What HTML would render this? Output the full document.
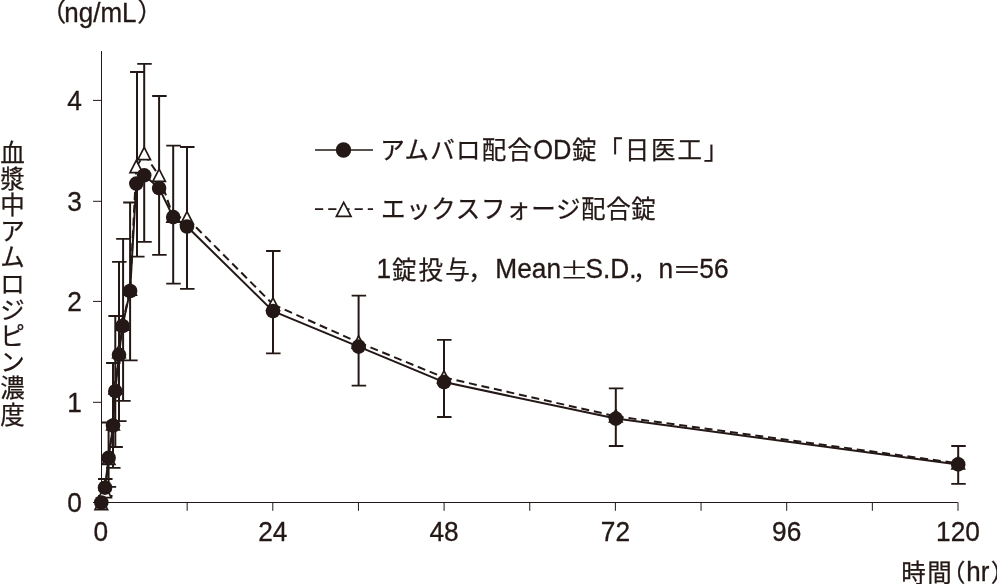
<!DOCTYPE html>
<html lang="ja"><head><meta charset="utf-8"><title>血漿中アムロジピン濃度</title>
<style>html,body{margin:0;padding:0;background:#fff;}body{width:997px;height:584px;overflow:hidden;}svg{display:block;}text{fill:#231815;font-family:"Liberation Sans","Noto Sans CJK JP",sans-serif;}.la{stroke:#231815;stroke-width:0.3px;}.jp{font-family:"Liberation Sans","Noto Sans CJK JP",sans-serif;stroke:#231815;stroke-width:0.25px;}.sym{font-family:"Noto Sans CJK JP","Liberation Sans",sans-serif;}</style></head><body>
<svg width="997" height="584" viewBox="0 0 997 584">
<rect width="997" height="584" fill="#fff"/>
<g stroke="#231815" stroke-width="1" fill="none">
<path d="M101.50 51V502.50H957.9"/>
<path d="M93 100.40H101.50"/>
<path d="M93 201.30H101.50"/>
<path d="M93 301.40H101.50"/>
<path d="M93 402.30H101.50"/>
<path d="M93 502.50H101.50"/>
<path d="M187.15 502.50V510.8"/>
<path d="M272.80 502.50V510.8"/>
<path d="M358.45 502.50V510.8"/>
<path d="M444.10 502.50V510.8"/>
<path d="M529.75 502.50V510.8"/>
<path d="M615.40 502.50V510.8"/>
<path d="M701.05 502.50V510.8"/>
<path d="M786.70 502.50V510.8"/>
<path d="M872.35 502.50V510.8"/>
<path d="M958.00 502.50V510.8"/>
</g>
<g stroke="#231815" stroke-width="2.00" fill="none">
<path d="M105.00 479.00V491.90M105.00 487.70V496.00"/>
<path d="M108.60 422.50V458.80M108.60 457.80V486.80"/>
<path d="M113.00 363.00V424.30M113.00 425.50V467.80"/>
<path d="M115.30 316.00V388.20M115.30 391.20V447.00"/>
<path d="M119.00 261.90V352.00M119.00 354.80V421.10"/>
<path d="M123.10 238.90V324.50M123.10 326.00V400.80"/>
<path d="M130.10 202.50V289.50M130.10 291.00V360.30"/>
<path d="M137.00 72.00V167.00M137.00 183.60V256.70"/>
<path d="M144.20 63.80V153.90M144.20 175.30V241.90"/>
<path d="M159.10 96.00V175.70M159.10 188.10V254.90"/>
<path d="M173.20 145.60V216.50M173.20 217.10V283.60"/>
<path d="M187.00 147.00V218.20M187.00 226.50V288.90"/>
<path d="M273.00 251.00V304.40M273.00 311.10V353.30"/>
<path d="M358.60 295.60V342.50M358.60 346.60V385.70"/>
<path d="M444.00 339.80V377.50M444.00 382.10V417.00"/>
<path d="M615.80 388.30V416.30M615.80 418.60V446.00"/>
<path d="M958.20 446.00V463.30M958.20 464.40V483.90"/>
</g>
<g stroke="#231815" stroke-width="1.8" fill="none">
<path d="M98.05 479.00H112.55M98.05 496.00H112.55"/>
<path d="M101.65 422.50H116.15M101.65 486.80H116.15"/>
<path d="M106.05 363.00H120.55M106.05 467.80H120.55"/>
<path d="M108.35 316.00H122.85M108.35 447.00H122.85"/>
<path d="M112.05 261.90H126.55M112.05 421.10H126.55"/>
<path d="M116.15 238.90H130.65M116.15 400.80H130.65"/>
<path d="M123.15 202.50H137.65M123.15 360.30H137.65"/>
<path d="M130.05 72.00H144.55M130.05 256.70H144.55"/>
<path d="M137.25 63.80H151.75M137.25 241.90H151.75"/>
<path d="M152.15 96.00H166.65M152.15 254.90H166.65"/>
<path d="M166.25 145.60H180.75M166.25 283.60H180.75"/>
<path d="M180.05 147.00H194.55M180.05 288.90H194.55"/>
<path d="M266.05 251.00H280.55M266.05 353.30H280.55"/>
<path d="M351.65 295.60H366.15M351.65 385.70H366.15"/>
<path d="M437.05 339.80H451.55M437.05 417.00H451.55"/>
<path d="M608.85 388.30H623.35M608.85 446.00H623.35"/>
<path d="M951.25 446.00H965.75M951.25 483.90H965.75"/>
</g>
<path d="M101.30 504.00L105.00 491.90M105.00 491.90L108.60 458.80M108.60 458.80L113.00 424.30M113.00 424.30L115.30 388.20M115.30 388.20L119.00 352.00M119.00 352.00L122.50 324.50M122.50 324.50L130.10 289.50M130.10 289.50L136.30 167.00M136.30 167.00L144.20 153.90M144.20 153.90L159.10 175.70M159.10 175.70L173.20 216.50M173.20 216.50L187.00 218.20M187.00 218.20L273.00 304.40M273.00 304.40L358.60 342.50M358.60 342.50L444.00 377.50M444.00 377.50L615.80 416.30M615.80 416.30L958.20 463.30" fill="none" stroke="#231815" stroke-width="2.00" stroke-dasharray="8 4.8"/>
<polyline points="101.30,502.50 105.00,487.70 108.60,457.80 113.00,425.50 115.30,391.20 119.00,354.80 122.50,326.00 130.10,291.00 136.30,183.60 144.20,175.30 159.10,188.10 173.20,217.10 187.00,226.50 273.00,311.10 358.60,346.60 444.00,382.10 615.80,418.60 958.20,464.40" fill="none" stroke="#231815" stroke-width="2.00" stroke-linejoin="round"/>
<g fill="#fff" stroke="#231815" stroke-width="1.7" stroke-linejoin="miter">
<path d="M101.30 497.45L107.60 509.65H95.00Z"/>
<path d="M105.00 485.35L111.30 497.55H98.70Z"/>
<path d="M108.60 452.25L114.90 464.45H102.30Z"/>
<path d="M113.00 417.75L119.30 429.95H106.70Z"/>
<path d="M115.30 381.65L121.60 393.85H109.00Z"/>
<path d="M119.00 345.45L125.30 357.65H112.70Z"/>
<path d="M122.50 317.95L128.80 330.15H116.20Z"/>
<path d="M130.10 282.95L136.40 295.15H123.80Z"/>
<path d="M136.30 160.45L142.60 172.65H130.00Z"/>
<path d="M144.20 147.35L150.50 159.55H137.90Z"/>
<path d="M159.10 169.15L165.40 181.35H152.80Z"/>
<path d="M173.20 209.95L179.50 222.15H166.90Z"/>
<path d="M187.00 211.65L193.30 223.85H180.70Z"/>
<path d="M273.00 297.85L279.30 310.05H266.70Z"/>
<path d="M358.60 335.95L364.90 348.15H352.30Z"/>
<path d="M444.00 370.95L450.30 383.15H437.70Z"/>
<path d="M615.80 409.75L622.10 421.95H609.50Z"/>
<path d="M958.20 456.75L964.50 468.95H951.90Z"/>
</g>
<g fill="#231815">
<circle cx="101.30" cy="502.50" r="7.30"/>
<circle cx="105.00" cy="487.70" r="7.30"/>
<circle cx="108.60" cy="457.80" r="7.30"/>
<circle cx="113.00" cy="425.50" r="7.30"/>
<circle cx="115.30" cy="391.20" r="7.30"/>
<circle cx="119.00" cy="354.80" r="7.30"/>
<circle cx="122.50" cy="326.00" r="7.30"/>
<circle cx="130.10" cy="291.00" r="7.30"/>
<circle cx="136.30" cy="183.60" r="7.30"/>
<circle cx="144.20" cy="175.30" r="7.30"/>
<circle cx="159.10" cy="188.10" r="7.30"/>
<circle cx="173.20" cy="217.10" r="7.30"/>
<circle cx="187.00" cy="226.50" r="7.30"/>
<circle cx="273.00" cy="311.10" r="7.30"/>
<circle cx="358.60" cy="346.60" r="7.30"/>
<circle cx="444.00" cy="382.10" r="7.30"/>
<circle cx="615.80" cy="418.60" r="7.30"/>
<circle cx="958.20" cy="464.40" r="7.30"/>
</g>
<path d="M315 150H373" stroke="#231815" stroke-width="1.7" fill="none"/>
<circle cx="343.5" cy="150" r="7.7" fill="#231815"/>
<path d="M315 209.1H373" stroke="#231815" stroke-width="1.7" fill="none" stroke-dasharray="8.2 5"/>
<path d="M343.7 202.4L351 216.3H336.4Z" fill="#fff" stroke="#231815" stroke-width="1.7"/>
<g>
<text transform="translate(82.0 109.8) scale(1 1.065)" font-size="26.3" text-anchor="end" class="la">4</text>
<text transform="translate(82.0 210.7) scale(1 1.065)" font-size="26.3" text-anchor="end" class="la">3</text>
<text transform="translate(82.0 310.8) scale(1 1.065)" font-size="26.3" text-anchor="end" class="la">2</text>
<text transform="translate(82.0 411.7) scale(1 1.065)" font-size="26.3" text-anchor="end" class="la">1</text>
<text transform="translate(82.0 511.9) scale(1 1.065)" font-size="26.3" text-anchor="end" class="la">0</text>
<text transform="translate(100.7 541.3) scale(1 1.065)" font-size="26.3" text-anchor="middle" class="la">0</text>
<text transform="translate(272.8 541.3) scale(1 1.065)" font-size="26.3" text-anchor="middle" class="la">24</text>
<text transform="translate(444.1 541.3) scale(1 1.065)" font-size="26.3" text-anchor="middle" class="la">48</text>
<text transform="translate(615.4 541.3) scale(1 1.065)" font-size="26.3" text-anchor="middle" class="la">72</text>
<text transform="translate(786.7 541.3) scale(1 1.065)" font-size="26.3" text-anchor="middle" class="la">96</text>
<text transform="translate(958.0 541.3) scale(1 1.065)" font-size="26.3" text-anchor="middle" class="la">120</text>
</g>
<text x="40.3" y="21.4" font-size="26" class="jp">（</text>
<text transform="translate(64.3 21.5) scale(1 1.065)" font-size="26" class="la">ng/mL</text>
<text x="137.2" y="21.4" font-size="26" class="jp">）</text>
<text x="380.3" y="159.1" font-size="24.5" class="jp" letter-spacing="1.3">アムバロ配合</text>
<text transform="translate(533.3 159.2) scale(1 1.065)" font-size="25.5" class="la">OD</text>
<text x="572.0" y="159.1" font-size="24.5" class="jp" letter-spacing="1.85">錠「日医工」</text>
<text x="381.0" y="217.5" font-size="24.5" class="jp" letter-spacing="0.66">エックスフォージ配合錠</text>
<text transform="translate(376.5 277.8) scale(1 1.065)" font-size="26.3" class="la">1</text>
<text x="392.0" y="278.6" font-size="24.5" class="jp" letter-spacing="2.1">錠投与</text>
<text x="468.3" y="278.6" font-size="24.5" class="jp">，</text>
<text transform="translate(495.3 277.8) scale(1 1.065)" font-size="26.3" class="la">Mean</text>
<text x="0.0" y="0.0" font-size="24.5" class="sym" transform="translate(559.4 278.4) scale(1.2 0.9)">±</text>
<text transform="translate(585.5 277.8) scale(1 1.065)" font-size="26.3" class="la">S.D.</text>
<text x="633.1" y="278.6" font-size="24.5" class="jp">，</text>
<text transform="translate(658.6 277.8) scale(1 1.065)" font-size="26.3" class="la">n</text>
<text x="0.0" y="0.0" font-size="24.5" class="jp" transform="translate(672.2 278.6) scale(1.2 1)">＝</text>
<text transform="translate(699.3 277.8) scale(1 1.065)" font-size="26.3" class="la">56</text>
<text font-size="24.5" text-anchor="middle" class="jp" x="12.6 12.6 12.6 12.6 12.6 12.6 12.6 12.6 12.6 12.6 12.6" y="161.5 187.7 213.9 240.1 266.3 292.5 318.7 344.9 371.1 397.3 423.5">血漿中アムロジピン濃度</text>
<text x="901.2" y="581.5" font-size="24.5" class="jp" letter-spacing="1.5">時間</text>
<text x="941.0" y="581.5" font-size="24.5" class="jp">（</text>
<text transform="translate(966.3 581.3) scale(1 1.065)" font-size="26" class="la">hr</text>
<text x="990.7" y="581.5" font-size="24.5" class="jp">）</text>
</svg></body></html>
